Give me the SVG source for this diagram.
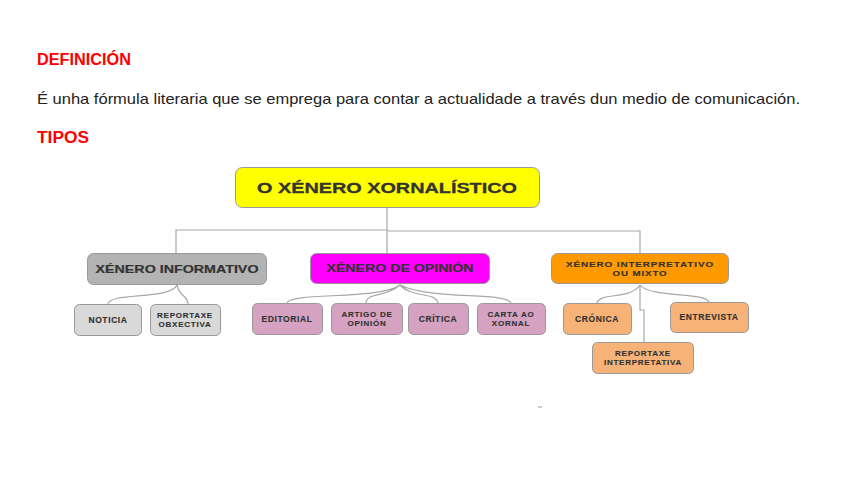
<svg xmlns="http://www.w3.org/2000/svg" width="848" height="477" viewBox="0 0 848 477">
<style>
.h{font-family:"Liberation Sans",Arial,sans-serif;font-weight:bold;fill:#ff0000;font-size:16px}
.p{font-family:"Liberation Sans",Arial,sans-serif;fill:#222;font-size:15px}
.t{font-family:"Liberation Sans",Arial,sans-serif;font-weight:bold;fill:#333;text-anchor:middle}
.s{font-size:8.5px;letter-spacing:0.6px;stroke:#333;stroke-width:0.15}
.d{font-size:8px;letter-spacing:0.75px;stroke:#333;stroke-width:0.15}
.m{font-size:11px;stroke:#333;stroke-width:0.2}
.c{fill:none;stroke:#a8a8a8;stroke-width:1.2}
.b{stroke:#999;stroke-width:1}
</style>
<rect width="848" height="477" fill="#fff"/>
<text class="h" x="37" y="65" textLength="94" lengthAdjust="spacingAndGlyphs">DEFINICIÓN</text>
<text class="p" x="37" y="104" textLength="763" lengthAdjust="spacingAndGlyphs">É unha fórmula literaria que se emprega para contar a actualidade a través dun medio de comunicación.</text>
<text class="h" x="37" y="143" textLength="52" lengthAdjust="spacingAndGlyphs">TIPOS</text>
<g id="connectors">
<path class="c" d="M387 208V253M176 253V230H388M388 231H640V253"/>
<path class="c" d="M177 285C170 300 110 292 108 304M177 285C180 298 188 295 188 304"/>
<path class="c" d="M400 285C380 300 290 292 287 303M400 285C385 298 367 292 366 303M400 285C412 298 436 292 438 303M400 285C430 300 508 292 511 303"/>
<path class="c" d="M640 285C630 300 600 292 597 303M640 285C650 298 706 292 709 302M640 285V310H644V342"/>
</g>
<g id="root">
<rect class="b" x="235.5" y="167.5" width="304" height="40" rx="7" fill="#ffff00"/>
<text class="t" x="387" y="193" font-size="14.5" stroke="#333" stroke-width="0.3" textLength="260" lengthAdjust="spacingAndGlyphs">O XÉNERO XORNALÍSTICO</text>
</g>
<g id="informativo">
<rect class="b" x="87.5" y="253.5" width="179" height="31" rx="6" fill="#b3b3b3"/>
<text class="t m" x="177" y="273" textLength="163" lengthAdjust="spacingAndGlyphs">XÉNERO INFORMATIVO</text>
</g>
<g id="noticia">
<rect class="b" x="74.5" y="304.5" width="67" height="31" rx="5" fill="#d9d9d9"/>
<text class="t s" x="108" y="323">NOTICIA</text>
</g>
<g id="reportaxe-obxectiva">
<rect class="b" x="150.5" y="304.5" width="70" height="31" rx="5" fill="#d9d9d9"/>
<text class="t d" x="185" y="317.5">REPORTAXE</text>
<text class="t d" x="185" y="327">OBXECTIVA</text>
</g>
<g id="opinion">
<rect class="b" x="310.5" y="253.5" width="179" height="30" rx="6" fill="#ff00ff"/>
<text class="t m" x="400" y="272" textLength="147" lengthAdjust="spacingAndGlyphs">XÉNERO DE OPINIÓN</text>
</g>
<g id="editorial">
<rect class="b" x="252.5" y="303.5" width="70" height="31" rx="5" fill="#d5a3c1"/>
<text class="t s" x="287" y="322">EDITORIAL</text>
</g>
<g id="artigo">
<rect class="b" x="331.5" y="303.5" width="71" height="31" rx="5" fill="#d5a3c1"/>
<text class="t d" x="367" y="316.5">ARTIGO DE</text>
<text class="t d" x="367" y="326">OPINIÓN</text>
</g>
<g id="critica">
<rect class="b" x="408.5" y="303.5" width="60" height="31" rx="5" fill="#d5a3c1"/>
<text class="t s" x="438" y="322">CRÍTICA</text>
</g>
<g id="carta">
<rect class="b" x="477.5" y="303.5" width="68" height="31" rx="5" fill="#d5a3c1"/>
<text class="t d" x="511" y="316.5">CARTA AO</text>
<text class="t d" x="511" y="326">XORNAL</text>
</g>
<g id="interpretativo">
<rect class="b" x="551.5" y="253.5" width="177" height="30" rx="6" fill="#ff9900"/>
<text class="t d" x="640" y="266.5" textLength="148" lengthAdjust="spacingAndGlyphs">XÉNERO INTERPRETATIVO</text>
<text class="t d" x="640" y="276" textLength="55" lengthAdjust="spacingAndGlyphs">OU MIXTO</text>
</g>
<g id="cronica">
<rect class="b" x="563.5" y="303.5" width="68" height="31" rx="5" fill="#f7b277"/>
<text class="t s" x="597" y="322">CRÓNICA</text>
</g>
<g id="entrevista">
<rect class="b" x="670.5" y="302.5" width="78" height="30" rx="5" fill="#f7b277"/>
<text class="t s" x="709" y="320">ENTREVISTA</text>
</g>
<g id="reportaxe-interpretativa">
<rect class="b" x="592.5" y="342.5" width="101" height="31" rx="5" fill="#f7b277"/>
<text class="t d" x="643" y="355.5">REPORTAXE</text>
<text class="t d" x="643" y="365">INTERPRETATIVA</text>
</g>
<rect x="538" y="406" width="4" height="2" fill="#ccc"/>
</svg>
